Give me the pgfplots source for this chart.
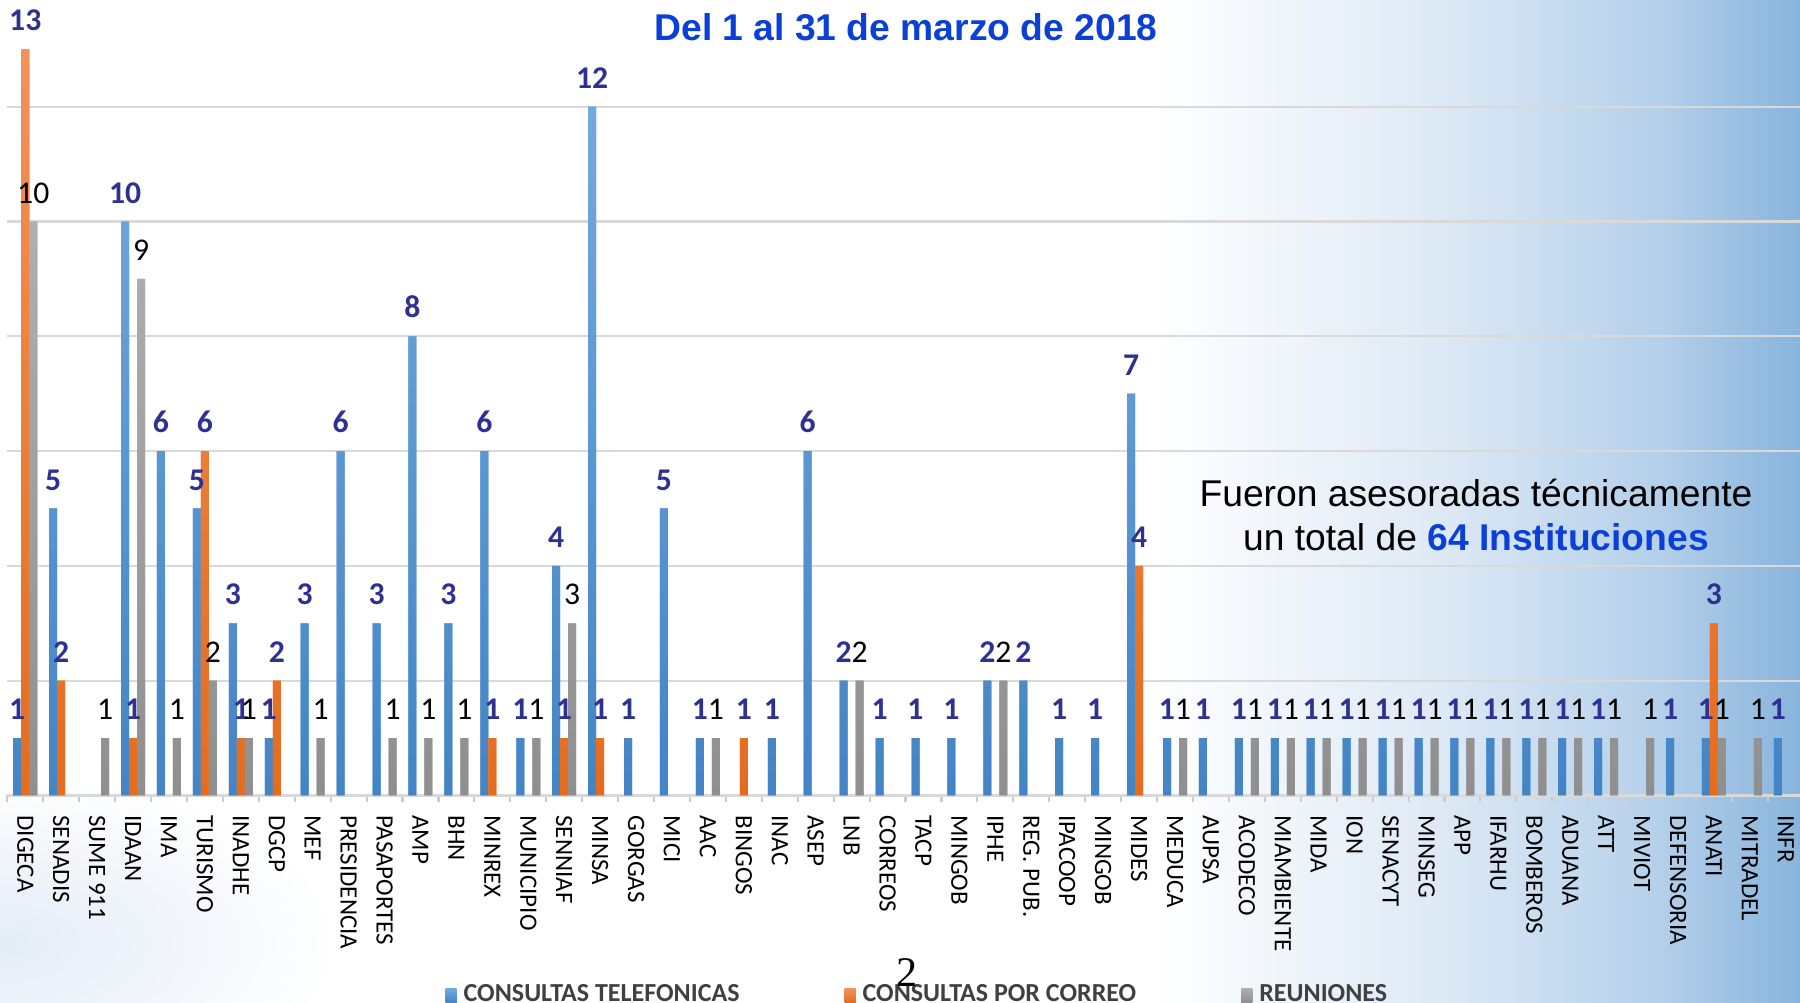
\documentclass[border=0pt]{standalone}
\usepackage{pgfplots}
\pgfplotsset{compat=1.18}
\usepackage{pgfplotstable}
\usepackage{fontspec}
\setmainfont{Carlito}
\newfontfamily\arial{Liberation Sans}
\newfontfamily\serifnum{Liberation Serif}
\definecolor{cbluetop}{HTML}{72AADE}
\definecolor{cbluebot}{HTML}{4484C5}
\definecolor{corangetop}{HTML}{F39257}
\definecolor{corangebot}{HTML}{E46C1E}
\definecolor{cgraytop}{HTML}{AFAFAF}
\definecolor{cgraybot}{HTML}{8F8F8F}
\definecolor{cblue}{HTML}{5B9BD5}
\definecolor{corange}{HTML}{ED7D31}
\definecolor{cgray}{HTML}{A5A5A5}
\definecolor{lblblue}{HTML}{2E3192}
\definecolor{titleblue}{HTML}{0A3FD8}
\definecolor{bgA}{HTML}{DDE9F5}
\definecolor{bgB}{HTML}{B5D0EA}
\definecolor{bgC}{HTML}{88B4DC}
\definecolor{bgL}{HTML}{E3ECF6}
\pgfdeclarehorizontalshading{bgshade}{100bp}{color(0bp)=(white); color(57bp)=(white); color(65bp)=(bgA); color(71bp)=(bgB); color(75bp)=(bgC); color(100bp)=(bgC)}

\pgfplotstableread{
x T C R
0 1 13 10
1 5 2 nan
2 nan nan 1
3 10 1 9
4 6 nan 1
5 5 6 2
6 3 1 1
7 1 2 nan
8 3 nan 1
9 6 nan nan
10 3 nan 1
11 8 nan 1
12 3 nan 1
13 6 1 nan
14 1 nan 1
15 4 1 3
16 12 1 nan
17 1 nan nan
18 5 nan nan
19 1 nan 1
20 nan 1 nan
21 1 nan nan
22 6 nan nan
23 2 nan 2
24 1 nan nan
25 1 nan nan
26 1 nan nan
27 2 nan 2
28 2 nan nan
29 1 nan nan
30 1 nan nan
31 7 4 nan
32 1 nan 1
33 1 nan nan
34 1 nan 1
35 1 nan 1
36 1 nan 1
37 1 nan 1
38 1 nan 1
39 1 nan 1
40 1 nan 1
41 1 nan 1
42 1 nan 1
43 1 nan 1
44 1 nan 1
45 nan nan 1
46 1 nan nan
47 1 3 1
48 nan nan 1
49 1 nan nan
}\data

\begin{document}
\begin{tikzpicture}
\useasboundingbox (0,0) rectangle (18cm,10.03cm);
\clip (0,0) rectangle (18cm,10.03cm);
\shade[shading=bgshade] (0,0) rectangle (18cm,10.03cm);
\shade[inner color=bgL, outer color=white] (0,0.6cm) ellipse (3.4cm and 1.7cm);
\begin{axis}[
  at={(0.073cm,2.075cm)}, anchor=south west,
  scale only axis, width=17.965cm, height=7.955cm,
  xmin=-0.5, xmax=49.5, ymin=0, ymax=13.86,
  clip=false,
  ybar=0pt, bar width=0.08cm,
  axis x line*=bottom, axis y line*=left,
  x axis line style={-, draw=black!15, line width=0.6pt},
  y axis line style={draw=none},
  ytick={2,4,...,12}, yticklabels={}, ytick style={draw=none},
  ymajorgrids, grid style={draw=black!15, line width=0.6pt},
  xtick={0,...,49},
  xticklabels={DIGECA,SENADIS,SUME 911,IDAAN,IMA,TURISMO,INADHE,DGCP,MEF,PRESIDENCIA,PASAPORTES,AMP,BHN,MINREX,MUNICIPIO,SENNIAF,MINSA,GORGAS,MICI,AAC,BINGOS,INAC,ASEP,LNB,CORREOS,TACP,MINGOB,IPHE,REG. PUB.,IPACOOP,MINGOB,MIDES,MEDUCA,AUPSA,ACODECO,MIAMBIENTE,MIDA,ION,SENACYT,MINSEG,APP,IFARHU,BOMBEROS,ADUANA,ATT,MIVIOT,DEFENSORIA,ANATI,MITRADEL,INFR},
  xtick style={draw=none},
  minor xtick={-0.5,0.5,...,49.5},
  tick align=outside, major tick length=0pt, minor tick length=0.07cm,
  minor x tick style={draw=black!20, line width=0.6pt},
  xticklabel shift=5.5pt,
  xticklabel style={rotate=-90, anchor=west, inner sep=0pt, font=\fontsize{7.1}{7.5}\selectfont, text=black},
  /pgf/number format/assume math mode=true,
  every node near coord/.append style={anchor=south, inner sep=0pt, yshift=5pt, font=\fontsize{9}{9}\selectfont},
  legend style={at={(0.2436,-0.2515)}, anchor=west, draw=none, fill=none, legend columns=3,
    font=\bfseries\fontsize{7.4}{8}\selectfont, text=black!75, inner sep=0pt,
    /tikz/every even column/.append style={column sep=0.98cm}},
  legend image code/.code={\fill[#1] (0cm,-0.07cm) rectangle (0.11cm,0.07cm);},
]
\addplot[draw=none, top color=cbluetop, bottom color=cbluebot, fill=cblue, nodes near coords,
  every node near coord/.append style={font=\bfseries\fontsize{9}{9}\selectfont, text=lblblue}]
  table[x=x,y=T]{\data};
\addplot[draw=none, top color=corangetop, bottom color=corangebot, fill=corange, nodes near coords,
  every node near coord/.append style={font=\bfseries\fontsize{9}{9}\selectfont, text=lblblue}]
  table[x=x,y=C]{\data};
\addplot[draw=none, top color=cgraytop, bottom color=cgraybot, fill=cgray, nodes near coords,
  every node near coord/.append style={text=black}]
  table[x=x,y=R]{\data};
\legend{CONSULTAS TELEFONICAS, CONSULTAS POR CORREO, REUNIONES}
\end{axis}
\node[font=\arial\bfseries\fontsize{10.6}{12}\selectfont, text=titleblue] at (9.06cm,9.755cm) {Del 1 al 31 de marzo de 2018};
\node[anchor=base, font=\arial\fontsize{10.6}{12}\selectfont] at (14.76cm,4.96cm) {Fueron asesoradas técnicamente};
\node[anchor=base, font=\arial\fontsize{10.6}{12}\selectfont] at (14.76cm,4.52cm) {un total de {\bfseries\color{titleblue}64 Instituciones}};
\node[font=\serifnum\fontsize{12}{12}\selectfont] at (9.07cm,0.30cm) {2};
\end{tikzpicture}
\end{document}
